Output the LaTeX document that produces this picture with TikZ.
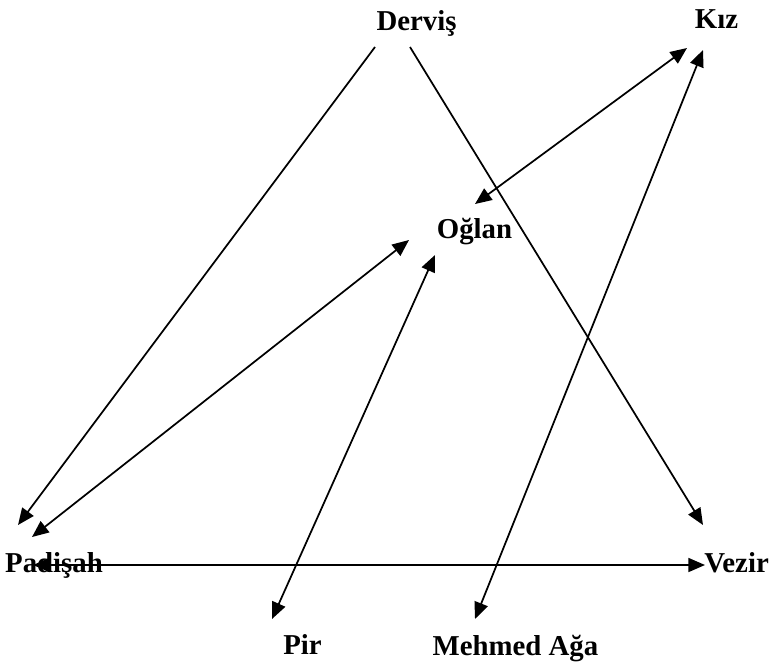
\documentclass[tikz,border=0pt]{standalone}
\usepackage{fontspec}
\setmainfont{Liberation Serif}
\usepackage{tikz}
\usetikzlibrary{arrows.meta, calc}

\begin{document}
\begin{tikzpicture}[x=0.75pt, y=-0.75pt, label/.style={anchor=base, inner sep=0pt, font=\bfseries\fontsize{21.6}{24}\selectfont}, line/.style={draw, line width=1.3pt}, >={Triangle[length=12.5pt, width=10.5pt]}]
\useasboundingbox (0,0) rectangle (774,661);
\node[label] (dervis) at (416.5,30) {Derviş};
\node[label] (kiz) at (716.5,28) {Kız};
\node[label] (oglan) at (474.5,238) {Oğlan};
\node[label] (padisah) at (54,572) {Padişah};
\node[label] (vezir) at (736.5,572) {Vezir};
\node[label] (pir) at (302.5,654) {Pir};
\node[label] (mehmed) at (515.5,655) {Mehmed Ağa};
\draw[line, ->] ($(dervis.base)+(-41.5,17)$) -- ($(padisah.base)+(-36,-47)$);
\draw[line, ->] ($(dervis.base)+(-6.5,17)$) -- ($(vezir.base)+(-33.5,-47)$);
\draw[line, <->] ($(kiz.base)+(-29.5,20)$) -- ($(oglan.base)+(0.5,-34)$);
\draw[line, <->] ($(kiz.base)+(-13.5,22)$) -- ($(mehmed.base)+(-40.5,-36)$);
\draw[line, <->] ($(oglan.base)+(-65.5,2)$) -- ($(padisah.base)+(-22,-35)$);
\draw[line, <->] ($(oglan.base)+(-39.5,17)$) -- ($(pir.base)+(-30.5,-35)$);
\draw[line, <->] ($(padisah.base)+(-21,-7)$) -- ($(vezir.base)+(-31.5,-7)$);
\end{tikzpicture}
\end{document}
